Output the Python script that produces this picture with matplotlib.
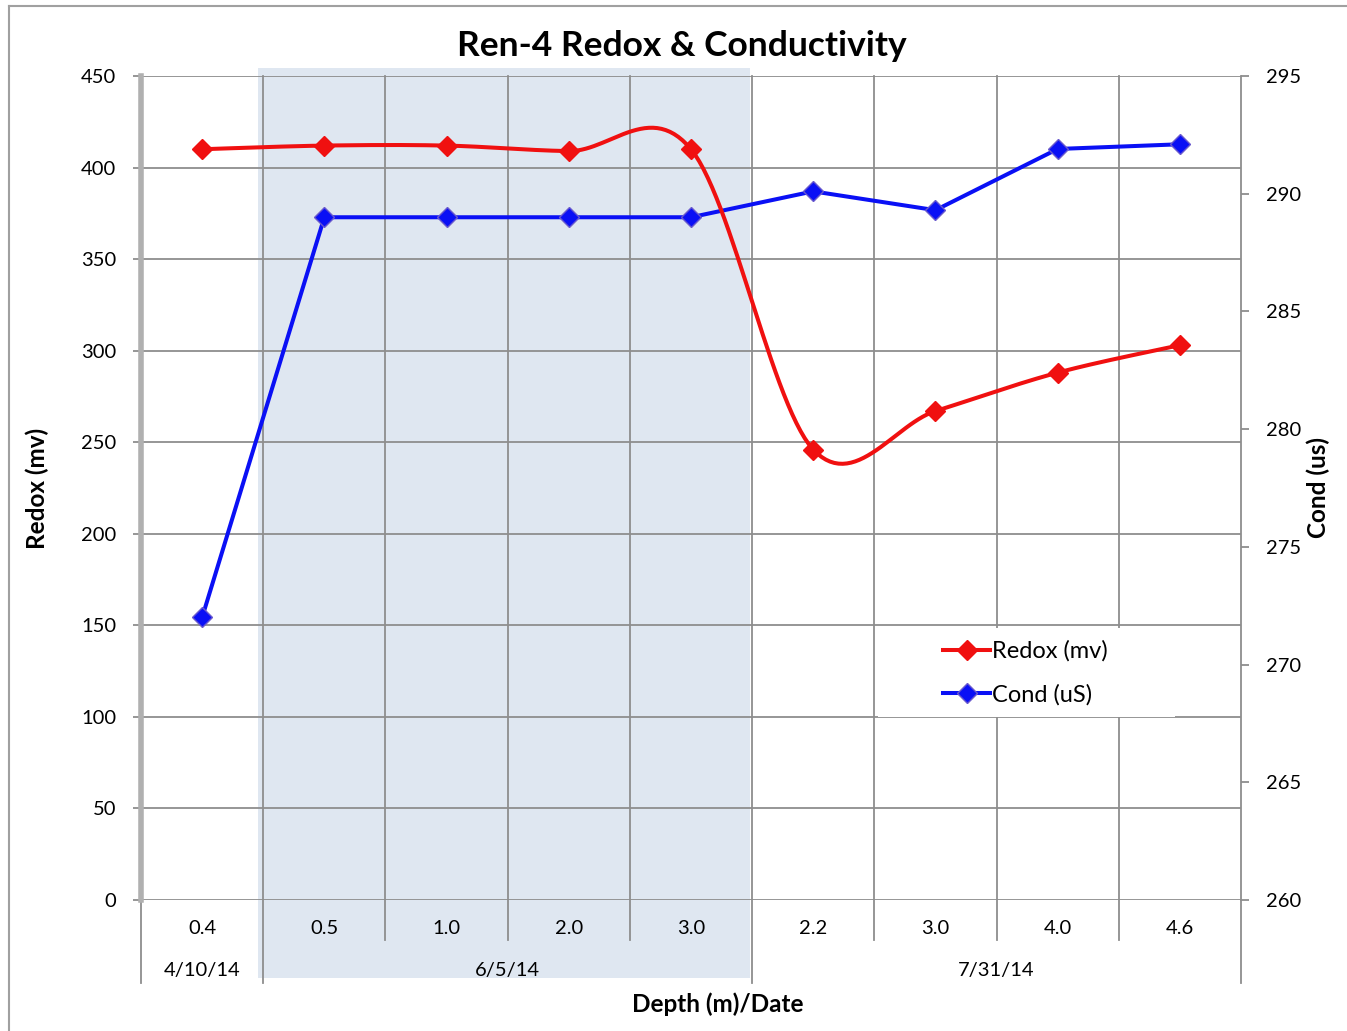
import matplotlib
matplotlib.use('Agg')
import matplotlib.pyplot as plt
import matplotlib.transforms as mtransforms
from matplotlib.patches import Rectangle
from matplotlib.lines import Line2D
import numpy as np

plt.rcParams['font.family'] = ['Lato', 'DejaVu Sans']

depths = ['0.4', '0.5', '1.0', '2.0', '3.0', '2.2', '3.0', '4.0', '4.6']
dates = ['4/10/14', '6/5/14', '7/31/14']
date_spans = [(0, 0), (1, 4), (5, 8)]
redox = [410, 412, 412, 409, 410, 246, 267, 288, 303]
cond = [272, 289, 289, 289, 289, 290.1, 289.3, 291.9, 292.1]

GRID = '#8e8e8e'
RED = '#f01010'
BLUE = '#0a10f5'


def smooth(xs, ys, n=30):
    # excel-like smoothing: cubic bezier with catmull-rom control points
    xs = np.asarray(xs, float)
    ys = np.asarray(ys, float)
    px, py = [], []
    N = len(xs)
    for i in range(N - 1):
        i0 = max(i - 1, 0)
        i3 = min(i + 2, N - 1)
        c1x = xs[i] + (xs[i + 1] - xs[i0]) / 6
        c1y = ys[i] + (ys[i + 1] - ys[i0]) / 6
        c2x = xs[i + 1] - (xs[i3] - xs[i]) / 6
        c2y = ys[i + 1] - (ys[i3] - ys[i]) / 6
        t = np.linspace(0, 1, n)
        bx = (1-t)**3*xs[i] + 3*(1-t)**2*t*c1x + 3*(1-t)*t**2*c2x + t**3*xs[i+1]
        by = (1-t)**3*ys[i] + 3*(1-t)**2*t*c1y + 3*(1-t)*t**2*c2y + t**3*ys[i+1]
        px.extend(bx)
        py.extend(by)
    return np.array(px), np.array(py)


fig = plt.figure(figsize=(13.47, 10.31), dpi=100)
ax = fig.add_axes([141/1347, 1-900/1031, 1100/1347, 824/1031])
ax2 = ax.twinx()
ax.patch.set_visible(False)
ax2.patch.set_visible(False)

# outer chart border (left and top only visible)
fig.add_artist(Line2D([9/1347, 9/1347], [0, 1-6/1031], transform=fig.transFigure, color='#a0a0a0', lw=1.5))
fig.add_artist(Line2D([9/1347, 1], [1-6/1031, 1-6/1031], transform=fig.transFigure, color='#a0a0a0', lw=1.5))

x = np.arange(len(depths))
ax.set_xlim(-0.5, len(depths) - 0.5)
ax.set_ylim(0, 450)
ax2.set_ylim(260, 295)

# shaded band for the 6/5/14 group
bt = mtransforms.blended_transform_factory(ax.transData, fig.transFigure)
band = Rectangle((0.458, 1-978/1031), 4.485-0.458, (978-68)/1031, transform=bt,
                 facecolor='#dfe7f1', edgecolor='none', zorder=-1)
fig.add_artist(band)

# grid
ax.set_yticks(np.arange(0, 451, 50))
ax.yaxis.grid(True, color=GRID, lw=1.3)
ax.set_axisbelow(True)
vt = mtransforms.blended_transform_factory(ax.transData, ax.transAxes)
for b in np.arange(0.5, len(depths) - 0.5, 1):
    low = -0.1007 if b in (0.5, 4.5) else -0.0485
    ax.plot([b, b], [low, 1], transform=vt, color=GRID, lw=1.3, clip_on=False, zorder=0.5)
ax.plot([-0.5, -0.5], [-0.1007, 0], transform=vt, color=GRID, lw=1.3, clip_on=False)
ax.plot([8.5, 8.5], [-0.1007, 0], transform=vt, color=GRID, lw=1.3, clip_on=False)

for s in ['top', 'bottom']:
    ax.spines[s].set_visible(False)
    ax2.spines[s].set_visible(False)
ax.spines['right'].set_visible(False)
ax2.spines['left'].set_visible(False)
ax.spines['left'].set_color('#b0b0b0')
ax.spines['left'].set_linewidth(4)
ax2.spines['right'].set_color(GRID)
ax2.spines['right'].set_linewidth(1.3)

ax.set_xticks([])
ax.tick_params(axis='y', length=6, width=1.3, color=GRID, labelsize=14.5, pad=12)
ax2.tick_params(axis='y', length=6, width=1.3, color=GRID, labelsize=14.5, pad=12)
ax2.set_yticks(np.arange(260, 296, 5))

# category labels
for i, d in enumerate(depths):
    ax.text(i, -0.034, d, transform=vt, ha='center', va='center', fontsize=14.5)
for (a, b), d in zip(date_spans, dates):
    ax.text((a + b) / 2, -0.085, d, transform=vt, ha='center', va='center', fontsize=14.5)

# series
ax2.plot(x, cond, color=BLUE, lw=2.9, marker='D', markersize=10,
         markerfacecolor=BLUE, markeredgecolor='#6a5acd', markeredgewidth=1, zorder=3)
sx, sy = smooth(x, redox)
ax2.plot(sx, sy, color=RED, lw=2.9, transform=ax.transData, zorder=4)
ax2.plot(x, redox, ls='none', marker='D', markersize=10.5, color=RED,
         transform=ax.transData, zorder=4)
ax2.set_ylim(260, 295)

# legend backdrop
ax2.add_patch(Rectangle((0.67, 0.222), 0.27, 0.108, transform=ax2.transAxes,
                        facecolor='white', edgecolor='none', zorder=1))
handles = [Line2D([], [], color=RED, lw=2.9, marker='D', markersize=10.5),
           Line2D([], [], color=BLUE, lw=2.9, marker='D', markersize=10,
                  markeredgecolor='#6a5acd')]
leg = ax2.legend(handles, ['Redox (mv)', 'Cond (uS)'], loc='center left',
                 bbox_to_anchor=(0.729, 0.2755), frameon=False, fontsize=17,
                 handlelength=2.0, handletextpad=0.1, labelspacing=0.95,
                 borderpad=0, borderaxespad=0)
leg.set_zorder(5)

fig.text(0.5065, 1-46/1031, 'Ren-4 Redox & Conductivity', ha='center', va='center',
         fontsize=25.5, fontweight='bold')
fig.text(718/1347, 1-1004/1031, 'Depth (m)/Date', ha='center', va='center',
         fontsize=17.5, fontweight='bold')
fig.text(37/1347, 1-488/1031, 'Redox (mv)', ha='center', va='center', rotation=90,
         fontsize=17.5, fontweight='bold')
fig.text(1318/1347, 1-488/1031, 'Cond (us)', ha='center', va='center', rotation=90,
         fontsize=17.5, fontweight='bold')

fig.savefig('out.png', dpi=100)
